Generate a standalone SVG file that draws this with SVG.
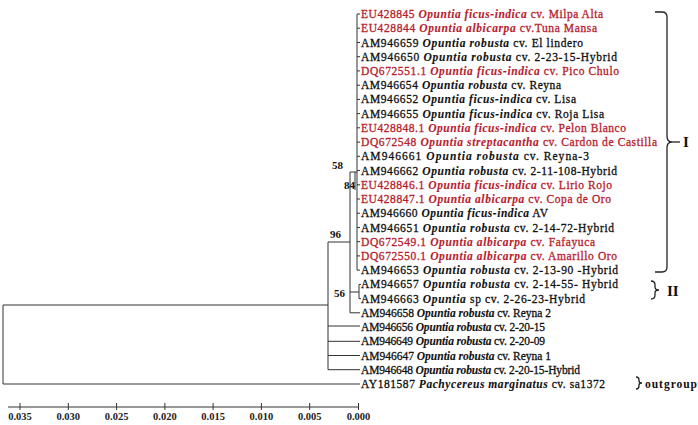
<svg xmlns="http://www.w3.org/2000/svg" width="698" height="425" viewBox="0 0 698 425">
<style>
.t{font-family:"Liberation Serif","Times New Roman",serif;font-size:11.5px;fill:#111;stroke:#111;stroke-width:0.3;}
.r{fill:#b81c2e;stroke:#b81c2e;}
.sp{font-style:italic;font-weight:bold;stroke-width:0.1;}
.br{fill:none;stroke:#222;stroke-width:1.3;}
.ln{stroke:#333;stroke-width:1;fill:none;}
.bs{font-family:"Liberation Serif",serif;font-size:11px;font-weight:bold;fill:#111;}
.ax{font-family:"Liberation Serif",serif;font-size:10.5px;font-weight:bold;fill:#222;text-anchor:middle;}
.lb{font-family:"Liberation Serif",serif;font-weight:bold;fill:#111;}
</style>
<rect width="698" height="425" fill="#fff"/>
<g id="connectors" class="ln">
<path d="M357,14V270.1"/>
<path d="M357,14H360M357,28.2H360M357,42.5H360M357,56.7H360M357,70.9H360M357,85.2H360M357,99.4H360M357,113.6H360M357,127.8H360M357,142.1H360M357,156.3H360M357,170.5H360M357,184.8H360M357,199H360M357,213.2H360M357,227.5H360M357,241.7H360M357,255.9H360M357,270.1H360"/>
<path d="M350,172H357"/>
<path d="M355,172V190"/>
<path d="M350,172V312.8"/>
<path d="M350,312.8H360"/>
<path d="M350,292H359M359,284.4V298.6M359,284.4H361M359,298.6H361"/>
<path d="M328,242H350"/>
<path d="M328,242V369.7"/>
<path d="M328,326H360M328,341.3H360M328,355.5H360M328,369.7H360"/>
<path d="M3,305H328"/>
<path d="M3,305V384"/>
<path d="M3,384H360"/>
</g>
<g id="bootstrap">
<text class="bs" x="332" y="169">58</text>
<text class="bs" x="344" y="189">84</text>
<text class="bs" x="330" y="238">96</text>
<text class="bs" x="334" y="297">56</text>
</g>
<g id="leaves">
<text class="t r" x="361" y="18" textLength="242" lengthAdjust="spacing">EU428845 <tspan class="sp">Opuntia ficus-indica</tspan> cv. Milpa Alta</text>
<text class="t r" x="361" y="32.2" textLength="236" lengthAdjust="spacing">EU428844 <tspan class="sp">Opuntia albicarpa</tspan> cv.Tuna Mansa</text>
<text class="t" x="361" y="46.5" textLength="222" lengthAdjust="spacing">AM946659 <tspan class="sp">Opuntia robusta</tspan> cv. El lindero</text>
<text class="t" x="361" y="60.7" textLength="256" lengthAdjust="spacing">AM946650  <tspan class="sp">Opuntia robusta</tspan> cv.  2-23-15-Hybrid</text>
<text class="t r" x="361" y="74.9" textLength="258" lengthAdjust="spacing">DQ672551.1 <tspan class="sp">Opuntia ficus-indica</tspan> cv.  Pico Chulo</text>
<text class="t" x="361" y="89.2" textLength="200" lengthAdjust="spacing">AM946654 <tspan class="sp">Opuntia robusta</tspan> cv. Reyna</text>
<text class="t" x="361" y="103.4" textLength="215" lengthAdjust="spacing">AM946652 <tspan class="sp">Opuntia ficus-indica</tspan> cv. Lisa</text>
<text class="t" x="361" y="117.6" textLength="243" lengthAdjust="spacing">AM946655 <tspan class="sp">Opuntia ficus-indica</tspan> cv. Roja Lisa</text>
<text class="t r" x="361" y="131.8" textLength="265" lengthAdjust="spacing">EU428848.1 <tspan class="sp">Opuntia ficus-indica</tspan> cv. Pelon Blanco</text>
<text class="t r" x="361" y="146.1" textLength="296" lengthAdjust="spacing">DQ672548 <tspan class="sp">Opuntia streptacantha</tspan> cv. Cardon de Castilla</text>
<text class="t" x="361" y="160.3" textLength="228" lengthAdjust="spacing">AM946661 <tspan class="sp">Opuntia robusta</tspan> cv. Reyna-3</text>
<text class="t" x="361" y="174.5" textLength="256" lengthAdjust="spacing">AM946662 <tspan class="sp">Opuntia robusta</tspan> cv. 2-11-108-Hybrid</text>
<text class="t r" x="361" y="188.8" textLength="251" lengthAdjust="spacing">EU428846.1 <tspan class="sp">Opuntia ficus-indica</tspan> cv. Lirio Rojo</text>
<text class="t r" x="361" y="203" textLength="250" lengthAdjust="spacing">EU428847.1 <tspan class="sp">Opuntia albicarpa</tspan> cv. Copa de Oro</text>
<text class="t" x="361" y="217.2" textLength="187" lengthAdjust="spacing">AM946660 <tspan class="sp">Opuntia ficus-indica</tspan> AV</text>
<text class="t" x="361" y="231.5" textLength="253" lengthAdjust="spacing">AM946651  <tspan class="sp">Opuntia robusta</tspan> cv. 2-14-72-Hybrid</text>
<text class="t r" x="361" y="245.7" textLength="234" lengthAdjust="spacing">DQ672549.1 <tspan class="sp">Opuntia albicarpa</tspan> cv. Fafayuca</text>
<text class="t r" x="361" y="259.9" textLength="256" lengthAdjust="spacing">DQ672550.1 <tspan class="sp">Opuntia albicarpa</tspan> cv. Amarillo Oro</text>
<text class="t" x="361" y="274.1" textLength="257" lengthAdjust="spacing">AM946653 <tspan class="sp">Opuntia robusta</tspan>  cv. 2-13-90 -Hybrid</text>
<text class="t" x="361" y="288.4" textLength="257" lengthAdjust="spacing">AM946657  <tspan class="sp">Opuntia robusta</tspan>  cv. 2-14-55- Hybrid</text>
<text class="t" x="361" y="302.6" textLength="224" lengthAdjust="spacing">AM946663 <tspan class="sp">Opuntia</tspan> sp  cv. 2-26-23-Hybrid</text>
<text class="t" x="361" y="316.8" textLength="190" lengthAdjust="spacing">AM946658 <tspan class="sp">Opuntia robusta</tspan> cv. Reyna 2</text>
<text class="t" x="361" y="331" textLength="184" lengthAdjust="spacing">AM946656 <tspan class="sp">Opuntia robusta</tspan>  cv. 2-20-15</text>
<text class="t" x="361" y="345.3" textLength="184" lengthAdjust="spacing">AM946649 <tspan class="sp">Opuntia robusta</tspan>  cv. 2-20-09</text>
<text class="t" x="361" y="359.5" textLength="190" lengthAdjust="spacing">AM946647 <tspan class="sp">Opuntia robusta</tspan>  cv. Reyna 1</text>
<text class="t" x="361" y="373.7" textLength="219" lengthAdjust="spacing">AM946648 <tspan class="sp">Opuntia robusta</tspan>  cv. 2-20-15-Hybrid</text>
<text class="t" x="361" y="388" textLength="244" lengthAdjust="spacing">AY181587 <tspan class="sp">Pachycereus marginatus</tspan>  cv. sa1372</text>
</g>
<g id="clade-I">
<path class="br" d="M655,12H662Q667,12 667,17V136Q667,142 672,142Q667,142 667,148V267Q667,272 662,272H655"/>
<path class="br" d="M672,142H680"/>
<text class="lb" x="683" y="147" font-size="15">I</text>
</g>
<g id="clade-II">
<path class="br" d="M651,281Q655,281 655,285V287Q655,290 659,290Q655,290 655,293V295Q655,299 651,299"/>
<text class="lb" x="667" y="296" font-size="15">II</text>
</g>
<g id="outgroup">
<path class="br" d="M636,377Q639,377 639,380V381Q639,383 642,383Q639,383 639,385V386Q639,389 636,389"/>
<text class="lb" x="645" y="388" font-size="11.5" textLength="52" lengthAdjust="spacing">outgroup</text>
</g>
<g id="scale">
<path class="ln" d="M8,407H359M20,403V410M68.3,403V410M116.6,403V410M164.9,403V410M213.1,403V410M261.4,403V410M309.7,403V410M358.5,403V410"/>
<text class="ax" x="20" y="420">0.035</text>
<text class="ax" x="68.3" y="420">0.030</text>
<text class="ax" x="116.6" y="420">0.025</text>
<text class="ax" x="164.9" y="420">0.020</text>
<text class="ax" x="213.1" y="420">0.015</text>
<text class="ax" x="261.4" y="420">0.010</text>
<text class="ax" x="309.7" y="420">0.005</text>
<text class="ax" x="358.5" y="420">0.000</text>
</g>
</svg>
